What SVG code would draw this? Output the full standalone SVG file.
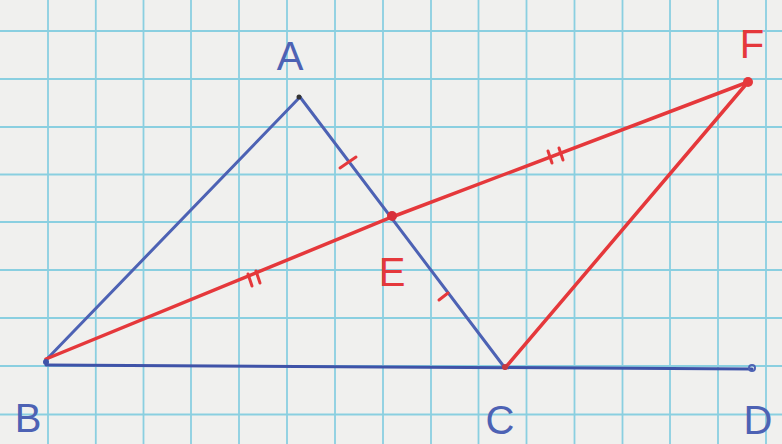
<svg xmlns="http://www.w3.org/2000/svg" width="782" height="444" viewBox="0 0 782 444">
<style>
.grid{stroke:#8acfe0;stroke-width:1.8}
.blue{stroke:#4d62b4;stroke-width:3;fill:none;stroke-linecap:round}
.red{stroke:#e5383b;stroke-width:3.5;fill:none;stroke-linecap:round}
.tick{stroke:#e5383b;stroke-width:3;stroke-linecap:round}
.lb{font-family:"Liberation Sans",sans-serif;font-size:40px;font-weight:normal;fill:#4d62b4}
.lr{font-family:"Liberation Sans",sans-serif;font-size:40px;fill:#e5383b}
</style>
<rect width="782" height="444" fill="#f0f0ee"/>
<g id="grid">
<path class="grid" d="M48 0V444M95.8 0V444M143.5 0V444M191 0V444M239 0V444M287 0V444M335 0V444M383 0V444M431 0V444M478.5 0V444M526.5 0V444M574.5 0V444M622.5 0V444M670 0V444M718 0V444M766 0V444"/>
<path class="grid" d="M0 31H782M0 79H782M0 127H782M0 174.5H782M0 222H782M0 270H782M0 318H782M0 366H782M0 414.5H782"/>
</g>
<g id="connectors">
<line id="AB" class="blue" x1="300" y1="97" x2="46" y2="360"/>
<line id="AC" class="blue" x1="300" y1="97" x2="505" y2="368"/>
<line id="BD" class="blue" x1="46" y1="365" x2="752" y2="369" style="stroke:#3f53a8"/>
<polyline id="BF" class="red" points="46,359 392,217 748,82"/>
<line id="CF" class="red" x1="505" y1="368" x2="748" y2="82"/>
<line class="tick" x1="340" y1="168" x2="356" y2="157"/>
<line class="tick" x1="439" y1="300" x2="448" y2="293"/>
<line class="tick" x1="248" y1="274" x2="252" y2="286"/>
<line class="tick" x1="256" y1="271" x2="260" y2="283"/>
<line class="tick" x1="548" y1="151" x2="552" y2="163"/>
<line class="tick" x1="559" y1="148" x2="563" y2="160"/>
</g>
<g id="A"><circle cx="299" cy="97" r="2.5" fill="#333"/><text class="lb" x="290" y="70" text-anchor="middle">A</text></g>
<g id="B"><circle cx="46" cy="362" r="3" fill="#3f53a8"/><text class="lb" x="28" y="432" text-anchor="middle">B</text></g>
<g id="C"><circle cx="505" cy="367" r="3" fill="#c43a40"/><text class="lb" x="500" y="434" text-anchor="middle">C</text></g>
<g id="D"><circle cx="752" cy="368" r="3" fill="none" stroke="#4d62b4" stroke-width="2"/><text class="lb" x="758" y="434" text-anchor="middle">D</text></g>
<g id="E"><circle cx="392" cy="216" r="5" fill="#d8303a"/><text class="lr" x="392" y="286" text-anchor="middle">E</text></g>
<g id="F"><circle cx="748" cy="82" r="5" fill="#e5383b"/><text class="lr" x="752" y="58" text-anchor="middle">F</text></g>
</svg>
